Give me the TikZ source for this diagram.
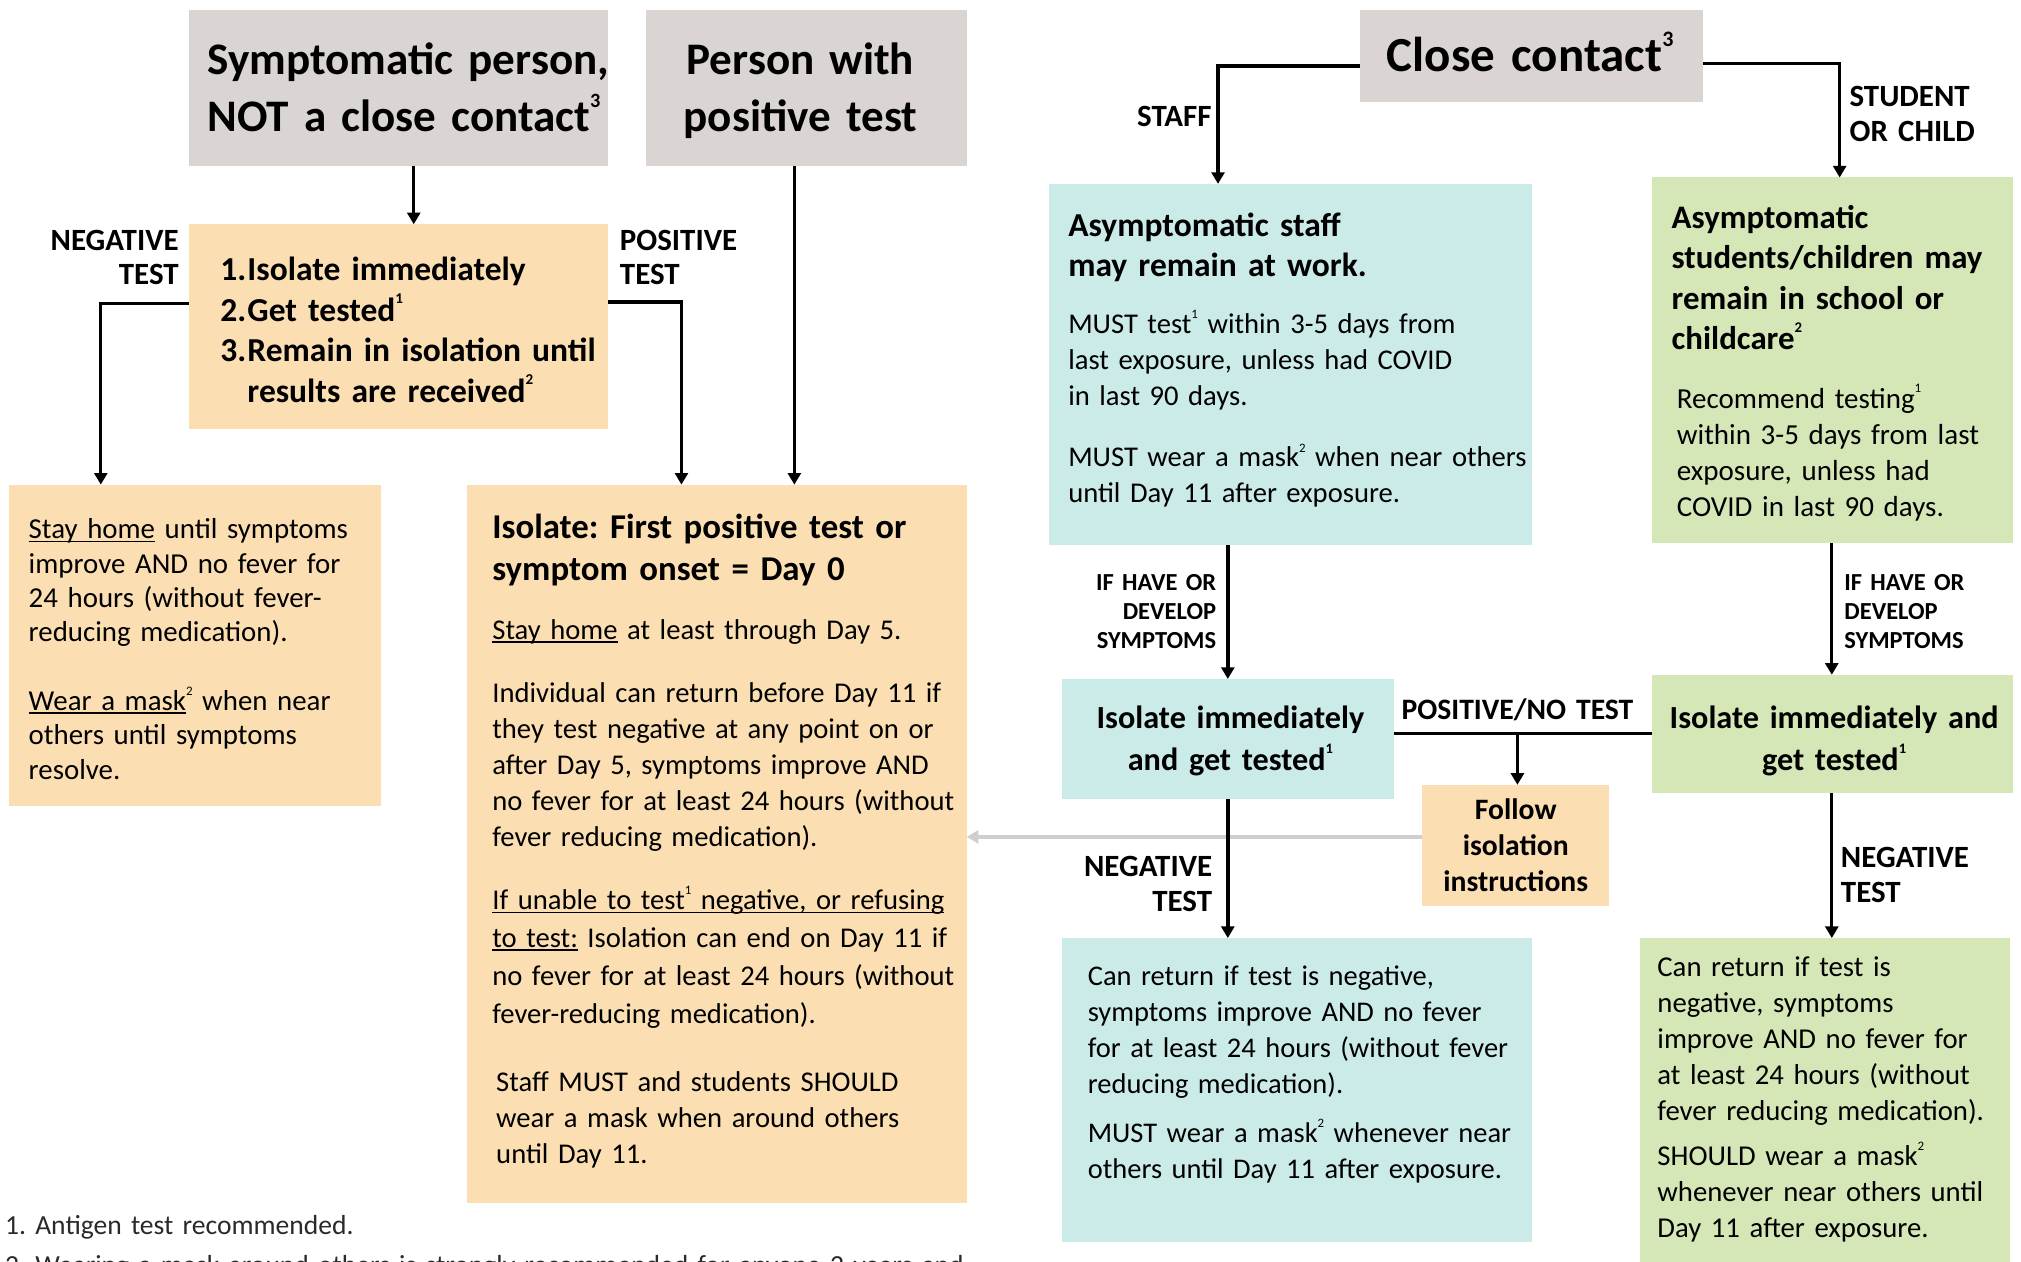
\documentclass[tikz,border=0pt]{standalone}
\usepackage{fontspec}
\usepackage{graphicx}
\setmainfont{Carlito}
\usetikzlibrary{fit,arrows.meta}
\definecolor{cgray}{HTML}{DAD5D2}
\definecolor{cpeach}{HTML}{FBDFB3}
\definecolor{ccyan}{HTML}{CBEBE9}
\definecolor{cgreen}{HTML}{D5E6B7}
\definecolor{carrowgray}{HTML}{CFCFCF}
\definecolor{cfoot}{HTML}{2A2A2A}
\newcommand\fsz[2]{\fontsize{#1}{#2}\selectfont}
\newcommand\sups[1]{\raisebox{0.52em}{\scalebox{0.45}{#1}}}
\newcommand\undl[1]{\leavevmode\setbox0\hbox{#1}\rlap{\rule[-2.8pt]{\wd0}{1.3pt}}\box0\relax}
\frenchspacing
\tikzset{
  bx/.style={inner sep=0pt, outer sep=0pt, draw=none},
  txt/.style={inner sep=0pt, outer sep=0pt, anchor=base west, text width=460pt, align=left},
  ctxt/.style={inner sep=0pt, outer sep=0pt, anchor=base, text width=400pt, align=center},
  rtxt/.style={inner sep=0pt, outer sep=0pt, anchor=base east, text width=200pt, align=right},
  arr/.style={line width=2.6pt, -{Triangle[width=10pt,length=9pt]}},
  ln/.style={line width=2.6pt},
  garr/.style={line width=2.6pt, draw=carrowgray, -{Triangle[width=10pt,length=9pt]}},
}
\begin{document}
\frenchspacing
\begin{tikzpicture}[x=1pt,y=-1pt]
\useasboundingbox (0,0) rectangle (1568,979);
% boxes
\node[bx, fill=cgray,  fit={(146.5,7.5)(471.8,129)}] (g1) {};
\node[bx, fill=cgray,  fit={(501.5,7.5)(750,129)}] (g2) {};
\node[bx, fill=cgray,  fit={(1055,7.5)(1321.3,79.5)}] (cc) {};
\node[bx, fill=cpeach, fit={(146.5,174)(471.8,332.5)}] (o1) {};
\node[bx, fill=cpeach, fit={(7,376)(295.5,625)}] (stay) {};
\node[bx, fill=cpeach, fit={(362,376)(750,933)}] (iso) {};
\node[bx, fill=ccyan,  fit={(813.7,142.7)(1188.9,423)}] (staff) {};
\node[bx, fill=cgreen, fit={(1281.4,137.7)(1562,421.6)}] (gr1) {};
\node[bx, fill=ccyan,  fit={(824.3,526.8)(1081.4,619.6)}] (iso2) {};
\node[bx, fill=cgreen, fit={(1281.4,523.5)(1562,615.3)}] (gr2) {};
\node[bx, fill=cpeach, fit={(1103,608.9)(1248,703.2)}] (follow) {};
\node[bx, fill=ccyan,  fit={(824.3,727.8)(1188.9,963.5)}] (can1) {};
\node[bx, fill=cgreen, fit={(1272.3,727.8)(1559.6,980)}] (can2) {};
% titles
\node[txt, font=\fsz{35}{44}\bfseries] (g1t) at (161,57.8) {Symptomatic person,\\NOT a close contact\sups{3}};
\node[ctxt, font=\fsz{35}{44}\bfseries] (g2t) at (621,58) {Person with\\positive test};
\node[txt, font=\fsz{38}{44}\bfseries] (cct) at (1076,55.5) {Close contact\sups{3}};
% left column
\node[txt, font=\fsz{26}{31.3}\bfseries] (o1t) at (171,218) {\makebox[21pt][l]{1.}Isolate immediately\\\makebox[21pt][l]{2.}Get tested\sups{1}\\\makebox[21pt][l]{3.}Remain in isolation until\\\hspace*{21pt}results are received\sups{2}};
\node[rtxt, font=\fsz{24}{27}\bfseries] (negl) at (138.6,194) {NEGATIVE\\TEST};
\node[txt, font=\fsz{24}{27}\bfseries] (posl) at (481,194) {POSITIVE\\TEST};
\node[txt, font=\fsz{22.4}{26.6}] (stayt) at (22.3,418) {\undl{Stay home} until symptoms\\improve AND no fever for\\24 hours (without fever-\\reducing medication).\\[26.8pt]\undl{Wear a mask}\sups{2} when near\\others until symptoms\\resolve.};
\node[txt, font=\fsz{27}{32}\bfseries] (isoh) at (382,418) {Isolate: First positive test or\\symptom onset = Day 0};
\node[txt, font=\fsz{22.2}{28}] (isop1) at (382,496) {\undl{Stay home} at least through Day 5.};
\node[txt, font=\fsz{22.2}{28}] (isop2) at (382,544.9) {Individual can return before Day 11 if\\they test negative at any point on or\\after Day 5, symptoms improve AND\\no fever for at least 24 hours (without\\fever reducing medication).};
\node[txt, font=\fsz{22.2}{29.4}] (isop3) at (382,705.7) {\undl{If unable to test\sups{1} negative, or refusing}\\\undl{to test:} Isolation can end on Day 11 if\\no fever for at least 24 hours (without\\fever-reducing medication).};
\node[txt, font=\fsz{22.2}{27.8}] (isop4) at (385,847) {Staff MUST and students SHOULD\\wear a mask when around others\\until Day 11.};
\node[txt, font=\fsz{21.4}{31}, text=cfoot] (foot1) at (4,957.7) {1. Antigen test recommended.};
\node[txt, text width=900pt, font=\fsz{21.4}{31}, text=cfoot] (foot2) at (4,989) {2. Wearing a mask around others is strongly recommended for anyone 2 years and};
% right part
\node[rtxt, font=\fsz{24}{27}\bfseries] (stafl) at (940,98.3) {STAFF};
\node[txt, font=\fsz{24}{27}\bfseries] (studl) at (1435,82.5) {STUDENT\\OR CHILD};
\node[txt, font=\fsz{26}{31.3}\bfseries] (staffh) at (828.8,183.4) {Asymptomatic staff\\may remain at work.};
\node[txt, font=\fsz{22.2}{27.7}] (staffb1) at (828.8,259) {MUST test\sups{1} within 3-5 days from\\last exposure, unless had COVID\\in last 90 days.};
\node[txt, font=\fsz{22.2}{27.7}] (staffb2) at (828.8,362.3) {MUST wear a mask\sups{2} when near others\\until Day 11 after exposure.};
\node[txt, font=\fsz{25.5}{31.3}\bfseries] (gr1h) at (1297,177.3) {Asymptomatic\\students/children may\\remain in school or\\childcare\sups{2}};
\node[txt, font=\fsz{22.5}{28}] (gr1b) at (1301,316.6) {Recommend testing\sups{1}\\within 3-5 days from last\\exposure, unless had\\COVID in last 90 days.};
\node[rtxt, font=\fsz{19}{22.4}\bfseries] (ifl) at (943.5,458) {IF HAVE OR\\DEVELOP\\SYMPTOMS};
\node[txt, font=\fsz{19}{22.4}\bfseries] (ifr) at (1431,458) {IF HAVE OR\\DEVELOP\\SYMPTOMS};
\node[ctxt, font=\fsz{25}{32.2}\bfseries] (iso2t) at (954.6,565.3) {Isolate immediately\\and get tested\sups{1}};
\node[ctxt, font=\fsz{25}{32.2}\bfseries] (gr2t) at (1423,565.3) {Isolate immediately and\\get tested\sups{1}};
\node[ctxt, font=\fsz{23}{27}\bfseries] (posnl) at (1177.3,558.2) {POSITIVE/NO TEST};
\node[ctxt, font=\fsz{23}{28}\bfseries] (followt) at (1176,636) {Follow\\isolation\\instructions};
\node[rtxt, font=\fsz{24}{27.2}\bfseries] (negl2) at (940.4,680.3) {NEGATIVE\\TEST};
\node[txt, font=\fsz{24}{27.2}\bfseries] (negr2) at (1428.3,673.2) {NEGATIVE\\TEST};
\node[txt, font=\fsz{22.1}{27.8}] (can1t) at (844,764.6) {Can return if test is negative,\\symptoms improve AND no fever\\for at least 24 hours (without fever\\reducing medication).\\[10.7pt]MUST wear a mask\sups{2} whenever near\\others until Day 11 after exposure.};
\node[txt, font=\fsz{22.3}{28}] (can2t) at (1285.9,757.5) {Can return if test is\\negative, symptoms\\improve AND no fever for\\at least 24 hours (without\\fever reducing medication).\\[6.6pt]SHOULD wear a mask\sups{2}\\whenever near others until\\Day 11 after exposure.};
% connectors
\coordinate (pn) at (1177.3,569);
\draw[arr] (g1.south -| 321,0) -- (o1.north -| 321,0);
\draw[arr] (o1.west |- 0,235.5) -| (stay.north -| 78.2,0);
\draw[arr] (o1.east |- 0,234.4) -| (iso.north -| 528.7,0);
\draw[arr] (g2.south -| 616.3,0) -- (iso.north -| 616.3,0);
\draw[arr] (cc.west |- 0,51.2) -| (staff.north -| 945,0);
\draw[arr] (cc.east |- 0,49.3) -| (gr1.north -| 1427.3,0);
\draw[arr] (staff.south -| 952.6,0) -- (iso2.north -| 952.6,0);
\draw[arr] (gr1.south -| 1421.2,0) -- (gr2.north -| 1421.2,0);
\draw[ln] (iso2.east |- pn) -- (gr2.west |- pn);
\draw[arr] (pn) -- (follow.north -| pn);
\draw[garr] (follow.west |- 0,649.3) -- (iso.east |- 0,649.3);
\draw[arr] (iso2.south -| 952.6,0) -- (can1.north -| 952.6,0);
\draw[arr] (gr2.south -| 1421.2,0) -- (can2.north -| 1421.2,0);
\end{tikzpicture}
\end{document}
